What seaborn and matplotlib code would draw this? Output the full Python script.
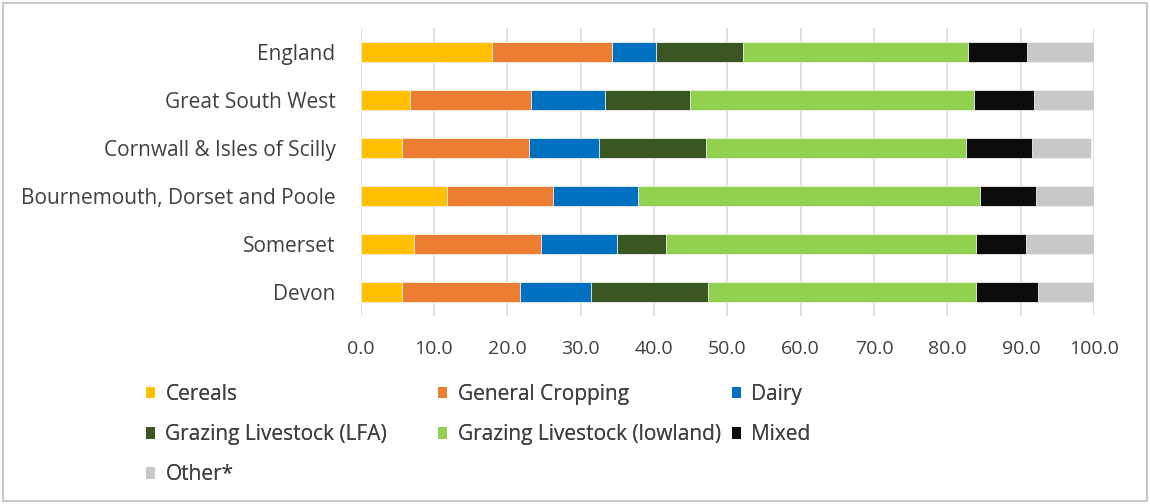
import matplotlib
matplotlib.use("Agg")
import matplotlib.pyplot as plt
from matplotlib.patches import Patch, Rectangle
import pandas as pd
import seaborn as sns
import numpy as np

regions = ["England", "Great South West", "Cornwall & Isles of Scilly",
           "Bournemouth, Dorset and Poole", "Somerset", "Devon"]
farm_types = ["Cereals", "General Cropping", "Dairy", "Grazing Livestock (LFA)",
              "Grazing Livestock (lowland)", "Mixed", "Other*"]

cereals = [17.9, 6.8, 5.7, 11.8, 7.3, 5.7]
general_cropping = [16.4, 16.4, 17.2, 14.4, 17.3, 16.1]
dairy = [6.0, 10.1, 9.6, 11.6, 10.4, 9.6]
grazing_lfa = [11.8, 11.6, 14.6, 0.0, 6.6, 16.0]
grazing_lowland = [30.7, 38.7, 35.4, 46.6, 42.3, 36.5]
mixed = [8.1, 8.2, 9.0, 7.7, 6.8, 8.4]
other = [9.1, 8.2, 8.1, 7.9, 9.3, 7.7]

colors = ["#FFC000", "#ED7D31", "#0070C0", "#3A5723", "#92D050", "#0D0D0D", "#C8C8C8"]

df = pd.DataFrame({"region": regions, "Cereals": cereals, "General Cropping": general_cropping,
                   "Dairy": dairy, "Grazing Livestock (LFA)": grazing_lfa,
                   "Grazing Livestock (lowland)": grazing_lowland, "Mixed": mixed,
                   "Other*": other})
cum = df[farm_types].cumsum(axis=1)
cum["region"] = df["region"]

sns.set_style("white")
plt.rcParams["font.family"] = ["Open Sans", "DejaVu Sans"]

fig = plt.figure(figsize=(11.5, 5.04), dpi=100)
ax = fig.add_axes([0.3135, 0.373, 0.638, 0.571])

# stacked bars: draw cumulative totals from the longest down so shorter ones sit on top
for ft, col in reversed(list(zip(farm_types, colors))):
    sns.barplot(data=cum, x=ft, y="region", color=col, orient="h", width=0.42,
                saturation=1, ax=ax, edgecolor="#f2f2f2", linewidth=0.6)

ax.set_xlim(0, 100)
ax.set_ylim(5.5, -0.5)
ax.set_xticks(np.arange(0, 101, 10))
ax.set_xticklabels([f"{v:.1f}" for v in np.arange(0, 101, 10)])
ax.set_xlabel("")
ax.set_ylabel("")
ax.grid(True, axis="x", color="#d9d9d9", linewidth=1.2)
ax.set_axisbelow(True)
for s in ax.spines.values():
    s.set_visible(False)
ax.tick_params(axis="x", length=0, pad=17, labelsize=14, labelcolor="#404040")
ax.tick_params(axis="y", length=0, pad=18, labelsize=15, labelcolor="#404040")

handles = [Patch(facecolor=c, edgecolor="none") for c in colors]
columns = [([0, 3, 6], 0.127), ([1, 4], 0.381), ([2, 5], 0.6365)]
for idx, xpos in columns:
    leg = fig.legend([handles[i] for i in idx], [farm_types[i] for i in idx],
                     loc="upper left", bbox_to_anchor=(xpos, 0.238), frameon=False,
                     fontsize=15, handlelength=0.43, handleheight=0.48,
                     handletextpad=0.5, labelspacing=0.92, borderpad=0,
                     borderaxespad=0, labelcolor="#404040")
    fig.add_artist(leg)

fig.add_artist(Rectangle((0.003, 0.006), 0.994, 0.988, transform=fig.transFigure,
                         fill=False, edgecolor="#c8c8c8", linewidth=1.5))

fig.savefig("out.png", dpi=100)
